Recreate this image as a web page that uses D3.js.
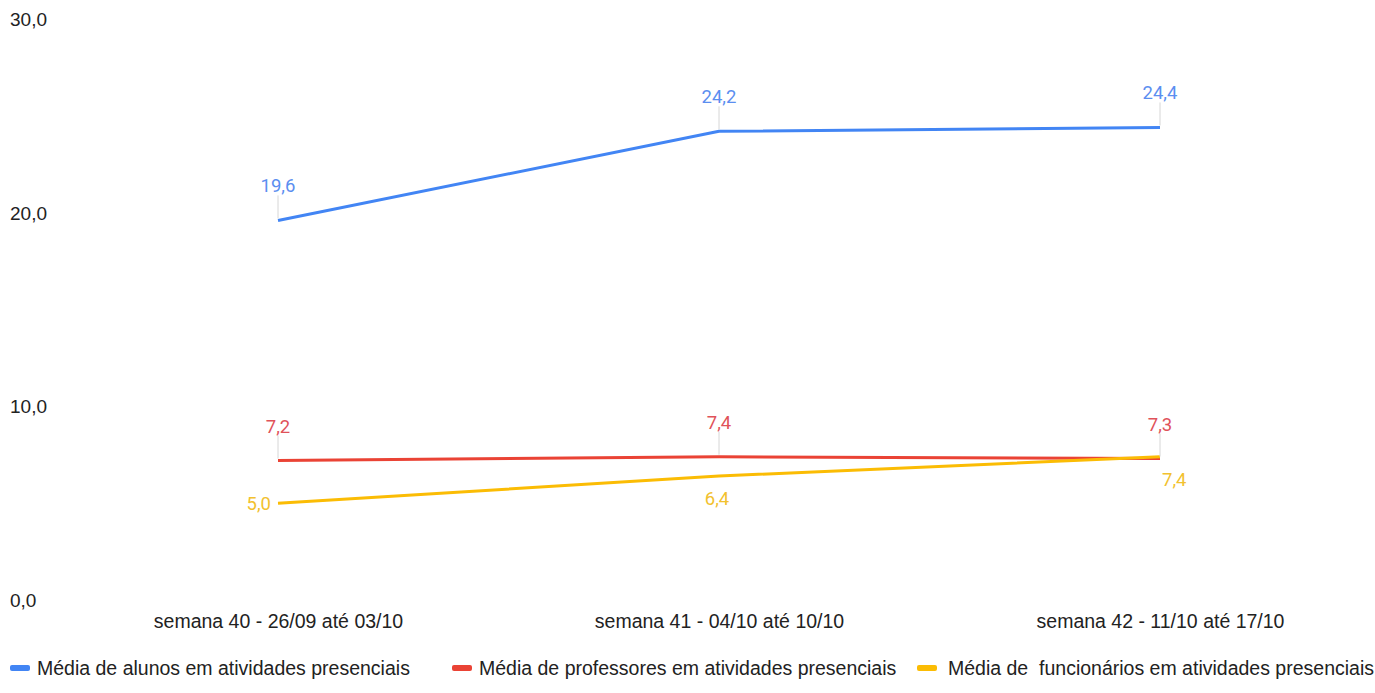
<!DOCTYPE html>
<html>
<head>
<meta charset="utf-8">
<script src="https://cdn.jsdelivr.net/npm/d3@7"></script>
<style>
  html, body { margin: 0; padding: 0; background: #fff; }
  svg { display: block; }
</style>
</head>
<body>
<svg id="chart" width="1375" height="693"></svg>
<script>
// Weekly averages of people in on-site activities
const weeks = [
  "semana 40 - 26/09 até 03/10",
  "semana 41 - 04/10 até 10/10",
  "semana 42 - 11/10 até 17/10"
];
const alunos = [19.6, 24.2, 24.4];
const professores = [7.2, 7.4, 7.3];
const funcionarios = [5.0, 6.4, 7.4];
const yTicks = [0, 10, 20, 30];
const seriesNames = [
  "Média de alunos em atividades presenciais",
  "Média de professores em atividades presenciais",
  "Média de  funcionários em atividades presenciais"
];

const colors = ["#4285F4", "#EA4335", "#FBBC04"];
const labelColors = ["#5b8ef0", "#e0525a", "#f2c12e"];
// where each value label sits relative to its point
const labelPlacement = [
  ["above", "above", "above"],
  ["above", "above", "above"],
  ["left", "below", "below-right"]
];

const series = [alunos, professores, funcionarios].map((vals, i) => ({
  name: seriesNames[i],
  color: colors[i],
  labelColor: labelColors[i],
  points: vals.map((v, j) => ({ week: weeks[j], value: v, place: labelPlacement[i][j] }))
}));

const svg = d3.select("#chart");
const axisFont = "'Liberation Sans', Arial, sans-serif";
const labelFont = "Roboto, 'Liberation Sans', sans-serif";

const x = d3.scalePoint().domain(weeks).range([278, 1160]);
const y = d3.scaleLinear().domain([0, 30]).range([600, 19]);

// y axis labels (no line, no ticks)
const yAxis = d3.axisLeft(y)
  .tickValues(yTicks)
  .tickSize(0)
  .tickFormat(d => d3.format(".1f")(d).replace(".", ","));
const gy = svg.append("g").attr("transform", "translate(10,0)").call(yAxis);
gy.select(".domain").remove();
gy.selectAll("text")
  .attr("x", 0)
  .attr("text-anchor", "start")
  .attr("dy", "0.35em")
  .style("font-family", axisFont)
  .style("font-size", "19px")
  .style("fill", "#222");

// x axis category labels
const xAxis = d3.axisBottom(x).tickSize(0);
const gx = svg.append("g").attr("transform", "translate(0,621)").call(xAxis);
gx.select(".domain").remove();
gx.selectAll("text")
  .attr("y", 0)
  .attr("dy", "0.35em")
  .style("font-family", axisFont)
  .style("font-size", "19.5px")
  .style("fill", "#222");

// lines
const line = d3.line().x(d => x(d.week)).y(d => y(d.value));
svg.append("g").selectAll("path")
  .data(series)
  .join("path")
  .attr("d", d => line(d.points))
  .attr("fill", "none")
  .attr("stroke", d => d.color)
  .attr("stroke-width", 3)
  .attr("stroke-linejoin", "round");

// value labels
const fmt = v => d3.format(".1f")(v).replace(".", ",");
series.forEach(s => {
  const g = svg.append("g");
  s.points.forEach(p => {
    const px = x(p.week), py = y(p.value);
    if (p.place === "above") {
      g.append("line")
        .attr("x1", px).attr("x2", px)
        .attr("y1", py - 25).attr("y2", py - 2)
        .attr("stroke", "#d6d6d6").attr("stroke-width", 1);
      g.append("text")
        .attr("x", px).attr("y", py - 28)
        .attr("text-anchor", "middle")
        .text(fmt(p.value));
    } else if (p.place === "left") {
      g.append("text")
        .attr("x", px - 7).attr("y", py)
        .attr("dy", "0.35em")
        .attr("text-anchor", "end")
        .text(fmt(p.value));
    } else if (p.place === "below") {
      g.append("text")
        .attr("x", px - 2).attr("y", py + 29)
        .attr("text-anchor", "middle")
        .text(fmt(p.value));
    } else {
      g.append("text")
        .attr("x", px + 2).attr("y", py + 29)
        .attr("text-anchor", "start")
        .text(fmt(p.value));
    }
  });
  g.selectAll("text")
    .style("font-family", labelFont)
    .style("font-size", "18.5px")
    .style("fill", s.labelColor);
});

// legend
const legendX = [10, 452, 917];
const legendTextOffset = [27, 27, 31];
const legend = svg.append("g").attr("transform", "translate(0,668)");
series.forEach((s, i) => {
  const lg = legend.append("g").attr("transform", `translate(${legendX[i]},0)`);
  lg.append("rect")
    .attr("x", 0).attr("y", -3)
    .attr("width", 20).attr("height", 6)
    .attr("rx", 2)
    .attr("fill", s.color);
  lg.append("text")
    .attr("x", legendTextOffset[i]).attr("y", 0)
    .attr("dy", "0.35em")
    .style("white-space", "pre")
    .style("font-family", axisFont)
    .style("font-size", "19.5px")
    .style("fill", "#222")
    .text(s.name);
});
</script>
</body>
</html>
